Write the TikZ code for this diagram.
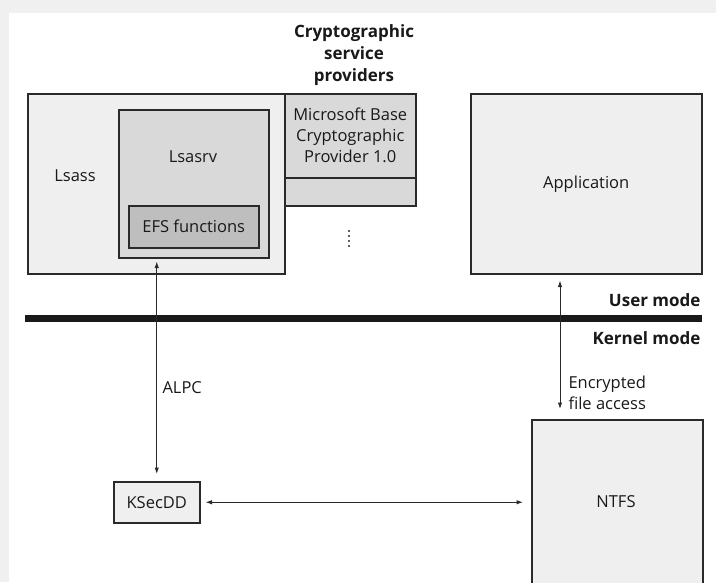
\documentclass[tikz,border=0pt]{standalone}
\usepackage{fontspec}
\setmainfont{Open Sans}
\usetikzlibrary{arrows.meta, positioning}
\definecolor{boxline}{HTML}{2A2A2A}
\definecolor{lightfill}{HTML}{EFEFEF}
\definecolor{midfill}{HTML}{D9D9D9}
\definecolor{darkfill}{HTML}{BEBEBE}

\begin{document}
\begin{tikzpicture}[x=1pt, y=-1pt,
    every node/.style={font=\fontsize{16.5}{21}\selectfont, text=black!90},
    bold/.style={font=\fontsize{17}{22}\selectfont\bfseries},
    box/.style={draw=boxline, line width=1.5pt, inner sep=0pt, anchor=north west},
    biarrow/.style={{Latex[length=6.5pt,width=4.5pt]}-{Latex[length=6.5pt,width=4.5pt]},
                    line width=1pt, draw=boxline}]
  % page: 716 x 582, 1pt per pixel, y runs downward
  \clip (0,0) rectangle (716,582);
  \fill[black!6] (0,0) rectangle (716,582);
  \fill[white] (9,13) rectangle (716,582);

  % Lsass with Lsasrv and EFS functions inside
  \node[box, fill=lightfill, minimum width=257, minimum height=180] (lsass) at (27,93) {};
  \node (lsasstxt) at (75,176) {Lsass};
  \node[box, fill=midfill, minimum width=150, minimum height=148] (lsasrv) at (118,109) {};
  \node (lsasrvtxt) at (193,157) {Lsasrv};
  \node[box, fill=darkfill, minimum width=130, minimum height=42] (efs) at (128,205) {EFS functions};

  % Cryptographic service providers
  \node[bold, align=center] (csptitle) at (354,55)
    {Cryptographic\\service\\providers};
  \node[box, fill=midfill, minimum width=131, minimum height=84, align=center] (msbase) at (284,93)
    {Microsoft Base\\Cryptographic\\Provider 1.0};
  \node[box, fill=midfill, minimum width=131, minimum height=28] (cspnext) at (284,177) {};
  \foreach \y in {231,236,241,246}
    \fill[boxline] (349,\y) circle (1.1pt);

  % Application (user mode)
  \node[box, fill=lightfill, minimum width=231, minimum height=180] (app) at (470,93) {Application};

  % User / kernel boundary
  \draw[line width=7.5pt, black!90] (25,318.5) -- (702,318.5);
  \node[bold, anchor=east] (usermode) at (704,300) {User mode};
  \node[bold, anchor=east] (kernelmode) at (704,338) {Kernel mode};

  % Kernel mode parts
  \node[box, fill=lightfill, minimum width=86, minimum height=41] (ksecdd) at (113,481) {KSecDD};
  \node[box, fill=lightfill, minimum width=171, minimum height=190] (ntfs) at (531,419) {};
  \node (ntfstxt) at (616,502) {NTFS};

  % Connectors
  \draw[biarrow, shorten <=3pt, shorten >=7pt] (ksecdd |- lsasrv.south) -- (ksecdd.north);
  \node[anchor=west] (alpc) at (159,388) {ALPC};

  \coordinate (encx) at (560,0);
  \draw[biarrow, shorten <=6pt, shorten >=10pt] (app.south -| encx) -- (ntfs.north -| encx);
  \node[anchor=west, align=left] (enctxt) at (565,393) {Encrypted\\file access};

  \draw[biarrow, shorten <=5pt, shorten >=8pt] (ksecdd.east) -- (ntfs.west |- ksecdd.east);
\end{tikzpicture}
\end{document}
